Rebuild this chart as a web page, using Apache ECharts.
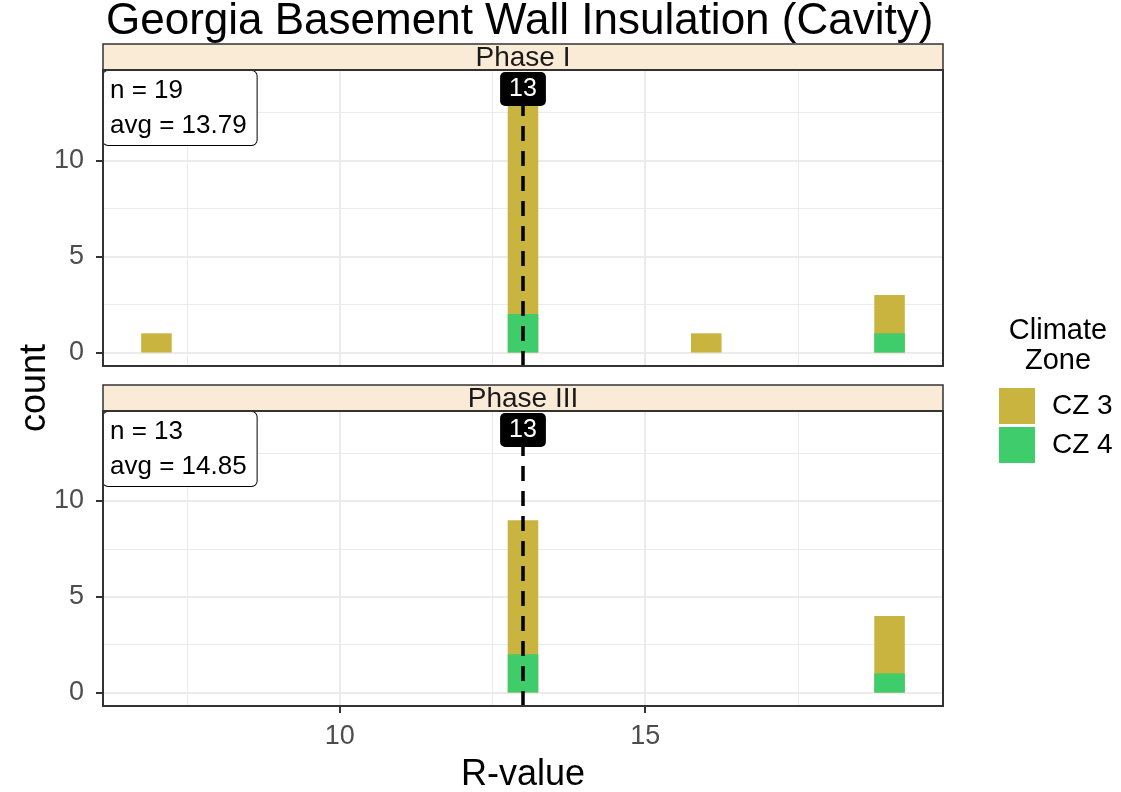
<!DOCTYPE html>
<html>
<head>
<meta charset="utf-8">
<title>Georgia Basement Wall Insulation (Cavity)</title>
<script src="https://cdn.jsdelivr.net/npm/echarts@6/dist/echarts.min.js"></script>
<style>
  html, body { margin: 0; padding: 0; background: #ffffff; }
  #chart { width: 1121px; height: 792px; }
</style>
</head>
<body>
<div id="chart"></div>
<script>
// histogram counts per R-value bin, split by climate zone
var rValues = [7, 13, 16, 19]
var phases = ['Phase I', 'Phase III']
var zones = ['CZ 3', 'CZ 4']
var phase1CZ3 = [1, 12, 1, 2]
var phase1CZ4 = [0, 2, 0, 1]
var phase3CZ3 = [0, 7, 0, 3]
var phase3CZ4 = [0, 2, 0, 1]
var xTicks = [10, 15]
var xMinorTicks = [7.5, 12.5, 17.5]
var yTicks = [0, 5, 10]
var yMinorTicks = [2.5, 7.5, 12.5]
var binWidth = 0.5

var X_MIN = 6.125
var X_MAX = 19.875
var Y_MIN = -0.7
var Y_MAX = 14.7

var colors = { 'CZ 3': '#C9B43F', 'CZ 4': '#3FCC6A' }
var FONT = '"Liberation Sans", Arial, sans-serif'

var plotLeft = 103
var plotW = 840
var panelTop = [70, 411]
var panelH = [296, 295]
var stripH = 26

var counts = [
  { 'CZ 3': phase1CZ3, 'CZ 4': phase1CZ4 },
  { 'CZ 3': phase3CZ3, 'CZ 4': phase3CZ4 }
]

function stats(a, b) {
  var n = 0
  var sum = 0
  var all = []
  for (var i = 0; i < rValues.length; i++) {
    var c = a[i] + b[i]
    n += c
    sum += c * rValues[i]
    for (var k = 0; k < c; k++) all.push(rValues[i])
  }
  all.sort(function(p, q) { return p - q })
  var med = n % 2 ? all[(n - 1) / 2] : (all[n / 2 - 1] + all[n / 2]) / 2
  return { n: n, avg: sum / n, median: med }
}

// CZ 3 sits on top of CZ 4, so its bar runs up to the bin total
function stackedTop(lower, upper) {
  return rValues.map(function(r, i) { return [r, lower[i] + upper[i]] })
}
function pairs(arr) {
  return rValues.map(function(r, i) { return [r, arr[i]] })
}

var myChart = echarts.init(document.getElementById('chart'))

var grids = []
var xAxes = []
var yAxes = []
var series = []
var graphics = []
var barW = binWidth * plotW / (X_MAX - X_MIN)

for (var p = 0; p < phases.length; p++) {
  var st = stats(counts[p]['CZ 3'], counts[p]['CZ 4'])
  var panelY = panelTop[p]

  grids.push({ left: plotLeft, top: panelY, width: plotW, height: panelH[p], show: false })

  xAxes.push({
    type: 'value', gridIndex: p, min: X_MIN, max: X_MAX, minInterval: 5, maxInterval: 5,
    axisLine: { show: false, onZero: false },
    axisTick: { show: p === 1, length: 7, customValues: xTicks, lineStyle: { color: '#333333', width: 2 } },
    axisLabel: {
      show: p === 1, customValues: xTicks, fontSize: 27, color: '#4D4D4D', margin: 17, fontFamily: FONT,
      formatter: function(v) { return v % 5 === 0 ? String(v) : '' }
    },
    splitLine: { show: true, lineStyle: { color: '#EBEBEB', width: 2 } }
  })
  yAxes.push({
    type: 'value', gridIndex: p, min: Y_MIN, max: Y_MAX, minInterval: 5, maxInterval: 5,
    axisLine: { show: false, onZero: false },
    axisTick: { show: true, length: 7, customValues: yTicks, lineStyle: { color: '#333333', width: 2 } },
    axisLabel: {
      show: true, customValues: yTicks, fontSize: 27, color: '#4D4D4D', margin: 19, fontFamily: FONT,
      formatter: function(v) { return v % 5 === 0 ? String(v) : '' }
    },
    splitLine: { show: true, lineStyle: { color: '#EBEBEB', width: 2 } }
  })

  var minorLines = []
  xMinorTicks.forEach(function(v) { minorLines.push({ xAxis: v }) })
  yMinorTicks.forEach(function(v) { minorLines.push({ yAxis: v }) })

  series.push({
    name: 'CZ 3', type: 'bar', xAxisIndex: p, yAxisIndex: p,
    barWidth: barW, barGap: '-100%', itemStyle: { color: colors['CZ 3'] },
    data: stackedTop(counts[p]['CZ 4'], counts[p]['CZ 3']),
    markLine: {
      silent: true, symbol: ['none', 'none'], z: 1,
      label: { show: false },
      lineStyle: { color: '#EBEBEB', width: 1.1, type: 'solid' },
      data: minorLines
    }
  })
  series.push({
    name: 'CZ 4', type: 'bar', xAxisIndex: p, yAxisIndex: p,
    barWidth: barW, barGap: '-100%', itemStyle: { color: colors['CZ 4'] },
    data: pairs(counts[p]['CZ 4']),
    markLine: {
      silent: true, symbol: ['none', 'none'],
      label: { show: false },
      lineStyle: { color: '#000000', width: 3.5, type: [15, 10] },
      data: [{ xAxis: st.median }]
    },
    markPoint: {
      silent: true, symbol: 'rect', symbolSize: 0,
      label: {
        show: true, position: 'bottom', distance: 2, formatter: String(st.median),
        color: '#ffffff', backgroundColor: '#000000', borderRadius: 5,
        padding: [5, 9, 4, 9], fontSize: 25, fontFamily: FONT
      },
      data: [{ coord: [st.median, Y_MAX] }]
    }
  })

  // facet strip
  graphics.push({
    type: 'rect', z: 50,
    shape: { x: plotLeft, y: panelY - stripH, width: plotW, height: stripH },
    style: { fill: '#FAEBD7', stroke: '#333333', lineWidth: 1.5 }
  })
  graphics.push({
    type: 'text', z: 51, x: plotLeft + plotW / 2, y: panelY - stripH / 2 + 1,
    style: { text: phases[p], font: '28px ' + FONT, fill: '#1A1A1A', align: 'center', verticalAlign: 'middle' }
  })
  // panel border
  graphics.push({
    type: 'rect', z: 60,
    shape: { x: plotLeft, y: panelY, width: plotW, height: panelH[p] },
    style: { fill: 'none', stroke: '#333333', lineWidth: 2 }
  })
  // n / avg label
  graphics.push({
    type: 'text', z: 55, x: plotLeft, y: panelY + 1,
    style: {
      text: 'n = ' + st.n + '\navg = ' + st.avg.toFixed(2),
      font: '26px ' + FONT, fill: '#000000', lineHeight: 35,
      backgroundColor: '#ffffff', borderColor: '#000000', borderWidth: 1, borderRadius: 5,
      padding: [2, 10, 2, 7]
    }
  })
}

graphics.push({
  type: 'text', x: 106, y: 22,
  style: { text: 'Georgia Basement Wall Insulation (Cavity)', font: '44px ' + FONT, fill: '#000000', verticalAlign: 'middle' }
})
graphics.push({
  type: 'text', x: 35, y: 388, rotation: Math.PI / 2,
  style: { text: 'count', font: '36px ' + FONT, fill: '#000000', align: 'center', verticalAlign: 'middle' }
})
graphics.push({
  type: 'text', x: plotLeft + plotW / 2, y: 775,
  style: { text: 'R-value', font: '36px ' + FONT, fill: '#000000', align: 'center', verticalAlign: 'middle' }
})
graphics.push({
  type: 'text', x: 1058, y: 346,
  style: { text: 'Climate\nZone', font: '29px ' + FONT, fill: '#000000', align: 'center', verticalAlign: 'middle', lineHeight: 30 }
})

var option = {
  animation: false,
  grid: grids,
  xAxis: xAxes,
  yAxis: yAxes,
  legend: {
    data: zones,
    orient: 'vertical',
    left: 999,
    top: 388,
    padding: 0,
    itemWidth: 36,
    itemHeight: 36,
    itemGap: 3,
    icon: 'rect',
    selectedMode: false,
    textStyle: { fontSize: 28, color: '#000000', padding: [0, 0, 0, 12], fontFamily: FONT }
  },
  series: series,
  graphic: graphics
}

myChart.setOption(option)
window.addEventListener('resize', () => {
  myChart.resize()
})
</script>
</body>
</html>
